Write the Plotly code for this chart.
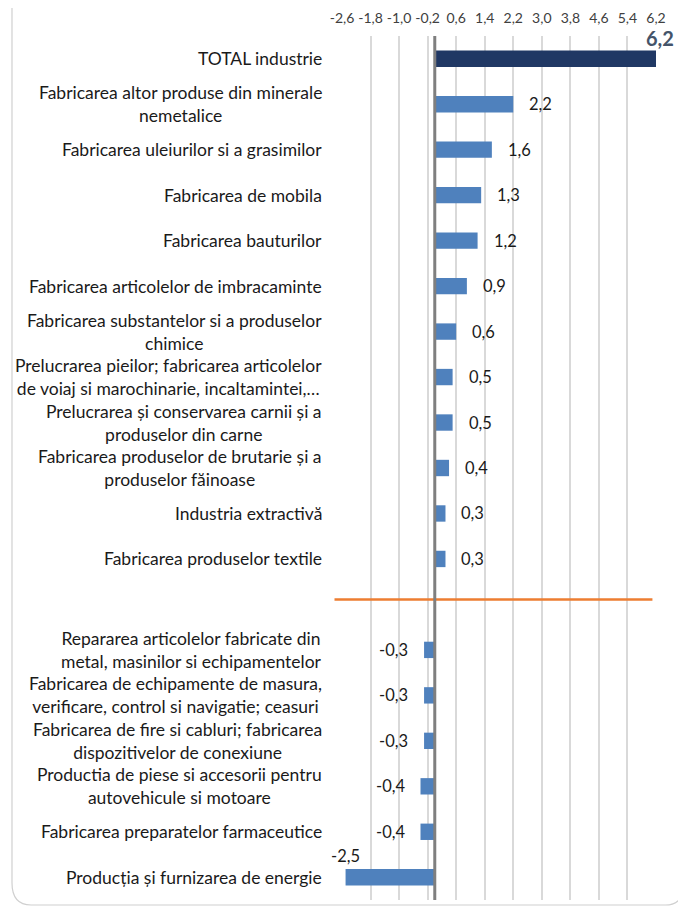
import plotly.graph_objects as go

# categories top to bottom; " " is the empty slot under the orange separator
categories = [
    "TOTAL industrie",
    "Fabricarea altor produse din minerale<br>nemetalice",
    "Fabricarea uleiurilor si a grasimilor ",
    "Fabricarea de mobila",
    "Fabricarea bauturilor",
    "Fabricarea articolelor de imbracaminte",
    "Fabricarea substantelor si a produselor<br>chimice",
    "Prelucrarea pieilor; fabricarea articolelor<br>de voiaj si marochinarie, incaltamintei,…",
    "Prelucrarea și conservarea carnii și a<br>produselor din carne",
    "Fabricarea produselor de brutarie și a<br>produselor făinoase",
    "Industria extractivă",
    "Fabricarea produselor textile",
    " ",
    "Repararea articolelor fabricate din<br>metal, masinilor si echipamentelor",
    "Fabricarea de echipamente de masura,<br>verificare, control si navigatie; ceasuri",
    "Fabricarea de fire si cabluri; fabricarea<br>dispozitivelor de conexiune",
    "Productia de piese si accesorii pentru<br>autovehicule si motoare",
    "Fabricarea preparatelor farmaceutice",
    "Producția și furnizarea de energie",
]
values = [6.2, 2.2, 1.6, 1.3, 1.2, 0.9, 0.6, 0.5, 0.5, 0.4, 0.3, 0.3, None,
          -0.3, -0.3, -0.3, -0.4, -0.4, -2.5]
tick_vals = [-2.6, -1.8, -1.0, -0.2, 0.6, 1.4, 2.2, 3.0, 3.8, 4.6, 5.4, 6.2]
tick_text = [f"{t:.1f}".replace(".", ",") for t in tick_vals]

FONT = "Lato"
TXT = "#1a1a1a"
X_RANGE = [-2.6, 6.2]
colors = ["#203864" if i == 0 else "#4F81BD" for i in range(len(categories))]

fig = go.Figure(go.Bar(
    x=values, y=categories, orientation="h",
    marker=dict(color=colors, line=dict(width=0)),
    width=0.36, hoverinfo="x+y",
))

annotations = []
for i, (cat, v) in enumerate(zip(categories, values)):
    # category label: lines centered, block right-aligned
    annotations.append(dict(
        x=0, xref="paper", y=cat, yref="y", text=cat.strip(),
        xanchor="right", xshift=-18, align="center", showarrow=False,
        font=dict(family=FONT, size=17.5, color=TXT),
    ))
    if v is None:
        continue
    label = f"{v:.1f}".replace(".", ",")
    if i == 0:
        annotations.append(dict(
            x=v, y=cat, text=f"<b>{label}</b>", showarrow=False,
            xanchor="center", xshift=4, yshift=21,
            font=dict(family=FONT, size=20, color="#44546A"),
        ))
    elif v < -1:
        annotations.append(dict(
            x=v, y=cat, text=label, showarrow=False,
            xanchor="center", yshift=21,
            font=dict(family=FONT, size=16.5, color=TXT),
        ))
    else:
        annotations.append(dict(
            x=v, y=cat, text=label, showarrow=False,
            xanchor="left" if v > 0 else "right",
            xshift=14 if v > 0 else -14,
            font=dict(family=FONT, size=16.5, color=TXT),
        ))


def to_paper(xv):
    return (xv - X_RANGE[0]) / (X_RANGE[1] - X_RANGE[0])


# orange separator line between the positive and negative groups
sep = categories.index(" ")
shapes = [
    dict(type="line", xref="paper", yref="y", x0=to_paper(-2.81), x1=to_paper(6.1),
         y0=sep - 0.11, y1=sep - 0.11,
         line=dict(color="#ED7D31", width=2.5)),
    # zero line
    dict(type="line", xref="x", yref="paper", x0=0, x1=0, y0=0, y1=1,
         line=dict(color="#7F7F7F", width=3)),
    # chart frame (rounded, cut at top)
    dict(type="path", xref="paper", yref="paper",
         path="M -1.051,1.2 L -1.051,0.02 Q -1.051,-0.0058 -0.99,-0.0058 "
              "L 1.03,-0.0058 Q 1.089,-0.0058 1.089,0.02 L 1.089,1.2",
         line=dict(color="#D0D0D0", width=1.2)),
]

fig.update_layout(
    width=686, height=910,
    margin=dict(l=334, r=38, t=28, b=18, autoexpand=False),
    paper_bgcolor="white", plot_bgcolor="white",
    showlegend=False,
    bargap=0.64,
    xaxis=dict(
        range=X_RANGE, side="top", tickvals=tick_vals, ticktext=tick_text,
        showgrid=True, gridcolor="#D9D9D9", gridwidth=1.5, automargin=False,
        zeroline=False, showline=False, ticks="outside", ticklen=6,
        tickcolor="rgba(0,0,0,0)",
        tickfont=dict(family=FONT, size=14, color="#404040"),
    ),
    yaxis=dict(
        categoryorder="array", categoryarray=categories, automargin=False,
        range=[len(categories) - 0.5, -0.5], showticklabels=False,
        showgrid=False, zeroline=False,
    ),
    annotations=annotations,
    shapes=shapes,
)

fig.write_html("out.html")
